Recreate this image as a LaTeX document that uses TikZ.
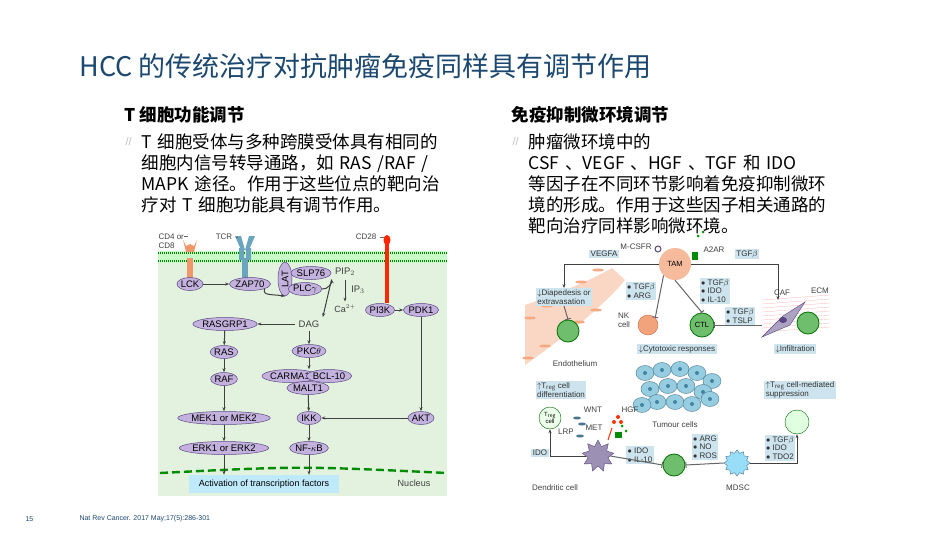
\documentclass[tikz,border=0pt]{standalone}
\usepackage{fontspec}
\setmainfont{Noto Sans CJK SC}
\newfontfamily\lat{Liberation Sans}
\usetikzlibrary{arrows.meta,shapes.geometric}
\definecolor{ttl}{RGB}{28,72,112}
\definecolor{prot}{RGB}{196,178,222}
\definecolor{protd}{RGB}{90,70,130}
\definecolor{cellg}{RGB}{226,242,222}
\definecolor{boxb}{RGB}{205,228,238}
\definecolor{gcell}{RGB}{110,190,110}
\definecolor{ocell}{RGB}{240,140,90}
\definecolor{tum}{RGB}{150,205,225}
\begin{document}
\begin{tikzpicture}[x=1pt,y=-1pt,
 p/.style={ellipse,draw=protd,fill=prot,line width=0.5pt,inner sep=0pt,minimum height=13pt,minimum width=24pt,font=\lat\fontsize{9.5}{10}\selectfont},
 ar/.style={-{Stealth[length=4pt]},line width=1pt,draw=black!75},
 inh/.style={-{Bar[width=6pt]},line width=1pt,draw=black!60},
 lb/.style={font=\lat\fontsize{8}{9}\selectfont,text=black!75},
 bx/.style={fill=boxb,font=\lat\fontsize{8}{8.5}\selectfont,inner sep=1.5pt,align=left,text=black!80},
 gc/.style={circle,draw=green!45!black,fill=gcell,minimum size=22pt,line width=0.8pt},
 bt/.style={anchor=north west,font=\fontsize{17.5}{21}\selectfont,text width=360pt,align=left}]
\useasboundingbox (0,0) rectangle (950,535);
\fill[white] (0,0) rectangle (950,535);
% title
\node[anchor=west,text=ttl,font=\fontsize{27}{30}\selectfont] (title) at (76,66) {HCC 的传统治疗对抗肿瘤免疫同样具有调节作用};
\node[anchor=west,font=\bfseries\fontsize{17.5}{20}\selectfont] (hl) at (121,115) {T 细胞功能调节};
\node[anchor=west,font=\bfseries\fontsize{17.5}{20}\selectfont] (hr) at (508,115) {免疫抑制微环境调节};
\node[anchor=west,text=black!25,font=\lat\fontsize{11}{11}\selectfont] (q1) at (122,142) {//};
\node[anchor=west,text=black!25,font=\lat\fontsize{11}{11}\selectfont] (q2) at (509,142) {//};
\node[bt] (tl) at (138,130) {T 细胞受体与多种跨膜受体具有相同的\\细胞内信号转导通路，如 RAS /RAF /\\MAPK 途径。作用于这些位点的靶向治\\疗对 T 细胞功能具有调节作用。};
\node[bt] (tr) at (525,130) {肿瘤微环境中的\\CSF 、VEGF 、HGF 、TGF 和 IDO\\等因子在不同环节影响着免疫抑制微环\\境的形成。作用于这些因子相关通路的\\靶向治疗同样影响微环境。};
\node[anchor=west,text=ttl,font=\lat\fontsize{7}{8}\selectfont] (pg) at (22,519) {15};
\node[anchor=west,text=ttl,font=\lat\fontsize{7}{8}\selectfont] (ref) at (76,519) {Nat Rev Cancer. 2017 May;17(5):286-301};

% ===== left diagram
\fill[cellg] (158,254) rectangle (447,496);
\fill[green!22!white] (158,251) rectangle (447,263);
\draw[green!50!black,line width=1.2pt,dash pattern=on 1pt off 1pt] (158,253)--(447,253) (158,261)--(447,261);
\draw[green!55!black,line width=2.4pt,dash pattern=on 8pt off 4pt] (160,473) .. controls (300,466) .. (447,473);
% receptors
\fill[ocell!90!white] (187,258) rectangle (193,278);
\fill[ocell!90!white] (183,240) -- (186,252) -- (194,252) -- (197,240) -- (194,246) -- (190,244) -- (186,246) -- cycle;
\fill[cyan!45!gray] (242,258) rectangle (248,278);
\fill[cyan!45!gray] (239,248) rectangle (244,260) (246,248) rectangle (251,260);
\fill[cyan!45!gray] (235,236) -- (241,250) -- (245,250)--(241,236) -- cycle (255,236) -- (249,250) -- (245,250)--(249,236) -- cycle;
\fill[red!70!orange] (385,242) rectangle (389,303);
\fill[red!70!orange] (387,240) ellipse (3.5pt and 5pt);
\node[lb,anchor=west,align=left] (cd4) at (155,241) {CD4 or\\CD8};
\node[lb] (tcr) at (224,237) {TCR};
\node[lb] (cd28) at (366,237) {CD28};
\draw[black!60,line width=0.4pt] (184,236) -- (188,236) (tcr.east)--(238,237) (cd28.east)--(384,237);
\node[p] (lck) at (190,284) {LCK};
\node[p] (zap) at (250,284) {ZAP70};
\node[p,minimum width=14pt,minimum height=34pt] (lat) at (285,279) {\rotatebox{90}{LAT}};
\node[p] (slp) at (311,273) {SLP76};
\node[p] (plc) at (305,289) {PLC$\gamma$};
\node[lb,font=\lat\fontsize{9.5}{10}\selectfont] (pip) at (345,272) {PIP$_2$};
\node[lb,font=\lat\fontsize{9.5}{10}\selectfont] (ip3) at (358,290) {IP$_3$};
\node[lb,font=\lat\fontsize{9}{10}\selectfont] (ca) at (345,309) {Ca$^{2+}$};
\node[p] (pi3k) at (380,310) {PI3K};
\node[p] (pdk) at (421,310) {PDK1};
\node[lb,font=\lat\fontsize{9.5}{10}\selectfont] (dag) at (309,324) {DAG};
\node[p] (rasg) at (225,324) {RASGRP1};
\node[p] (ras) at (224,352) {RAS};
\node[p] (raf) at (224,379) {RAF};
\node[p] (mek) at (224,418) {MEK1 or MEK2};
\node[p] (erk) at (224,448) {ERK1 or ERK2};
\node[p] (pkc) at (309,351) {PKC$\theta$};
\node[p] (carma) at (290,376) {CARMA1};
\node[p] (malt) at (308,388) {MALT1};
\node[p] (bcl) at (329,376) {BCL-10};
\node[p] (ikk) at (309,418) {IKK};
\node[p] (nfkb) at (309,448) {NF-$\kappa$B};
\node[p] (akt) at (421,418) {AKT};
\node[fill=cyan!25!white,font=\lat\fontsize{9}{10}\selectfont,minimum width=150pt,minimum height=18pt] (act) at (264,484) {Activation of transcription factors};
\node[lb,font=\lat\fontsize{9}{10}\selectfont] (nuc) at (414,483) {Nucleus};
\draw[ar] (lck)--(zap);
\draw[ar] (zap.south east) .. controls (262,296) and (272,294) .. (lat.south);
\draw[ar] (plc.east) .. controls (328,290) and (332,282) .. (pip.south west);
\draw[ar] (pip.south) -- (ca.north);
\draw[ar] (pip.south west) -- (dag.north east);
\draw[ar] (dag)--(rasg);
\draw[ar] (dag)--(pkc);
\draw[ar] (rasg)--(ras);
\draw[ar] (ras)--(raf);
\draw[ar] (raf)--(mek);
\draw[ar] (mek)--(erk);
\draw[ar] (erk)--(act.north -| erk);
\draw[ar] (pkc)--(carma.north -| pkc);
\draw[ar] (malt)--(ikk);
\draw[ar] (ikk)--(nfkb);
\draw[ar] (nfkb)--(act.north -| nfkb);
\draw[ar] (pi3k)--(pdk);
\draw[ar] (pdk)--(akt);
\draw[ar] (akt)--(ikk);

% ===== right diagram
\fill[ocell!35!white] (525,305) .. controls (570,290) and (600,275) .. (612,268) -- (625,280) .. controls (600,310) and (560,340) .. (525,365) -- cycle;
\foreach \i in {0,...,4}{\fill[ocell!75!white] (530+17*\i,318-12*\i) ellipse (6pt and 1.5pt);
 \fill[ocell!75!white] (528+17*\i,358-12*\i) ellipse (6pt and 1.5pt);}
\node[lb] (endo) at (575,364) {Endothelium};
% TAM
\node[circle,fill=ocell!60!white,minimum size=32pt,font=\lat\fontsize{7.5}{8}\selectfont] (tam) at (675,264) {TAM};
\node[lb] (mcsfr) at (636,247) {M-CSFR};
\node[lb] (a2ar) at (714,250) {A2AR};
\draw[protd,line width=1pt] (658,249) circle (3pt);
\fill[green!55!black] (692,252) rectangle (698,260);
\fill[green!60!black] (698,236) circle (1.5pt) (703,232) circle (1.5pt);
\node[bx] (vegfa) at (604,254) {VEGFA};
\node[bx] (tgfb) at (747,254) {TGF$\beta$};
\node[bx] (diap) at (564,297) {$\downarrow$Diapedesis or\\extravasation};
\node[gc] (g1) at (568,331) {};
\node[circle,draw=ocell!80!black,fill=ocell!80!white,minimum size=20pt] (nk) at (648,325) {};
\node[lb,align=left] (nkl) at (624,320) {NK\\cell};
\node[gc,font=\lat\fontsize{7.5}{8}\selectfont] (ctl) at (702,325) {CTL};
\node[bx] (cyto) at (677,349) {$\downarrow$Cytotoxic responses};
\node[bx] (b1) at (641,291) {$\bullet$ TGF$\beta$\\$\bullet$ ARG};
\node[bx] (b2) at (715,291) {$\bullet$ TGF$\beta$\\$\bullet$ IDO\\$\bullet$ IL-10};
\node[bx] (b3) at (740,316) {$\bullet$ TGF$\beta$\\$\bullet$ TSLP};
\foreach \i in {0,...,8}{\draw[red!30!white,line width=0.3pt] (762,300+4*\i)--(830,295+4*\i);}
\fill[protd!50!white,draw=protd] (762,337) -- (783,316) -- (805,302) -- (790,325) -- cycle;
\fill[protd] (783,320) ellipse (4pt and 3pt);
\node[gc] (g2) at (808,323) {};
\node[lb] (caf) at (782,293) {CAF};
\node[lb] (ecm) at (820,291) {ECM};
\node[bx] (inf) at (795,349) {$\downarrow$Infiltration};
\draw[ar] (tam.west) -| (diap.north);
\draw[ar] (tam.east) -| (778,300);
\draw[inh] (diap.south)--(g1.north);
\draw[inh] (tam.south west)--(nk.north east);
\draw[inh] (tam.south)--(ctl.north);
\draw[inh] (762,325)--(ctl.east);
% tumour
\foreach \x/\y in {645/373,662/370,680/369,697/373,712/381,650/389,668/386,686/386,703/392,657/402,675/402,692/404,710/399,642/405}{
 \fill[tum,draw=cyan!50!black,line width=0.4pt] (\x,\y) ellipse (9pt and 7.5pt);
 \fill[cyan!60!black] (\x,\y) circle (2pt);}
\node[lb] (tc) at (675,425) {Tumour cells};
% bottom
\node[bx] (tregd) at (561,390) {$\uparrow$T$_{\rm reg}$ cell\\differentiation};
\node[bx] (tregs) at (800,390) {$\uparrow$T$_{\rm reg}$ cell-mediated\\suppression};
\node[circle,draw=green!40!black,fill=green!8!white,minimum size=22pt,font=\lat\fontsize{6}{6.5}\selectfont,align=center,inner sep=0pt] (treg) at (550,418) {T$_{\rm reg}$\\cell};
\node[circle,draw=green!40!black,fill=green!12!white,minimum size=24pt] (treg2) at (797,422) {};
\node[star,star points=9,star point ratio=1.6,fill=protd!60!white,draw=protd,minimum size=32pt] (dc) at (598,456) {};
\node[lb] (dcl) at (555,488) {Dendritic cell};
\node[lb] (wnt) at (593,410) {WNT};
\node[lb] (lrp) at (566,432) {LRP};
\node[lb] (met) at (594,428) {MET};
\node[lb] (hgf) at (630,410) {HGF};
\fill[cyan!50!black] (577,418) ellipse (4pt and 1.5pt) (582,424) ellipse (4pt and 1.5pt) (580,436) ellipse (4pt and 1.5pt);
\fill[red!60!orange] (618,417) circle (2pt) (621,422) circle (2pt) (614,422) circle (2pt);
\draw[red!60!orange,line width=1pt] (608,440)--(612,428);
\fill[green!55!black] (615,432) rectangle (622,438);
\fill[green!60!black] (622,426) circle (1.5pt) (626,431) circle (1.5pt);
\node[bx] (idol) at (540,453) {IDO};
\node[bx] (b4) at (640,455) {$\bullet$ IDO\\$\bullet$ IL-10};
\node[gc] (g3) at (674,465) {};
\node[bx] (b5) at (705,447) {$\bullet$ ARG\\$\bullet$ NO\\$\bullet$ ROS};
\node[star,star points=12,star point ratio=1.3,fill=cyan!40!white,draw=cyan!50!black,minimum size=26pt] (mdsc) at (737,463) {};
\node[lb] (mdscl) at (738,488) {MDSC};
\node[bx] (b6) at (780,448) {$\bullet$ TGF$\beta$\\$\bullet$ IDO\\$\bullet$ TDO2};
\draw[ar] (dc.west) -| (treg.south);
\draw[inh] (dc.east)--(g3.west);
\draw[inh] (mdsc.west)--(g3.east);
\draw[ar] (mdsc.east) -| (treg2.south);
\end{tikzpicture}
\end{document}
